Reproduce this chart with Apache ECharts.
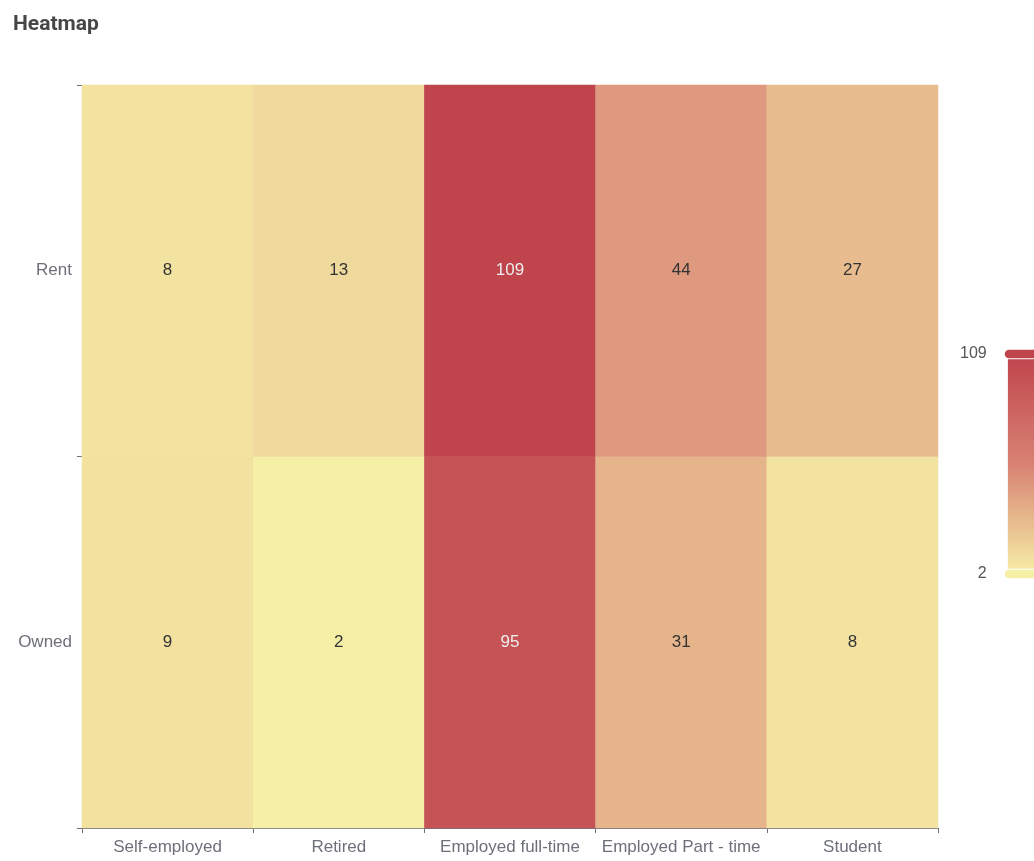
<!DOCTYPE html>
<html>
<head>
<meta charset="utf-8">
<title>Heatmap</title>
<script src="https://cdn.jsdelivr.net/npm/echarts@6/dist/echarts.min.js"></script>
<style>
  html, body { margin: 0; padding: 0; background: #ffffff; }
  #chart { width: 1034px; height: 861px; }
</style>
</head>
<body>
<div id="chart"></div>
<script>
// Employment status along the x axis, housing tenure along the y axis
const employment = ['Self-employed', 'Retired', 'Employed full-time', 'Employed Part - time', 'Student'];
const tenure = ['Owned', 'Rent'];

// Counts per employment status, one list per tenure row
const ownedCounts = [9, 2, 95, 31, 8];
const rentCounts = [8, 13, 109, 44, 27];

const rows = [ownedCounts, rentCounts];
const cells = [];
rows.forEach(function (row, yi) {
  row.forEach(function (v, xi) {
    cells.push([xi, yi, v]);
  });
});
const allValues = ownedCounts.concat(rentCounts);

const chart = echarts.init(document.getElementById('chart'), null, { renderer: 'canvas' });

chart.setOption({
  animation: false,
  title: {
    text: 'Heatmap',
    left: 8,
    top: 9,
    textStyle: {
      fontFamily: 'Roboto',
      fontSize: 21,
      fontWeight: 'bold',
      color: '#464646'
    }
  },
  grid: {
    left: 82,
    right: 96,
    top: 85,
    bottom: 33
  },
  xAxis: {
    type: 'category',
    data: employment,
    axisLine: { show: true, lineStyle: { color: '#6E7079' } },
    axisTick: { show: true, alignWithLabel: false, length: 5, lineStyle: { color: '#6E7079' } },
    axisLabel: { color: '#6E7079', fontSize: 17, margin: 11, interval: 0 },
    splitArea: { show: false }
  },
  yAxis: {
    type: 'category',
    data: tenure,
    axisLine: { show: false },
    axisTick: { show: true, length: 5, lineStyle: { color: '#6E7079' } },
    axisLabel: { color: '#6E7079', fontSize: 17, margin: 10, interval: 0 },
    splitArea: { show: false }
  },
  visualMap: {
    type: 'continuous',
    min: Math.min.apply(null, allValues),
    max: Math.max.apply(null, allValues),
    calculable: true,
    orient: 'vertical',
    align: 'right',
    left: 945,
    top: 331,
    itemWidth: 30,
    itemHeight: 220,
    textStyle: { color: '#555', fontSize: 16 },
    inRange: {
      color: ['#f6efa6', '#d88273', '#bf444c']
    }
  },
  series: [{
    name: 'Heatmap',
    type: 'heatmap',
    data: cells,
    label: {
      show: true,
      fontSize: 17
    },
    emphasis: {
      itemStyle: { shadowBlur: 10, shadowColor: 'rgba(0,0,0,0.5)' }
    }
  }]
});
</script>
</body>
</html>
